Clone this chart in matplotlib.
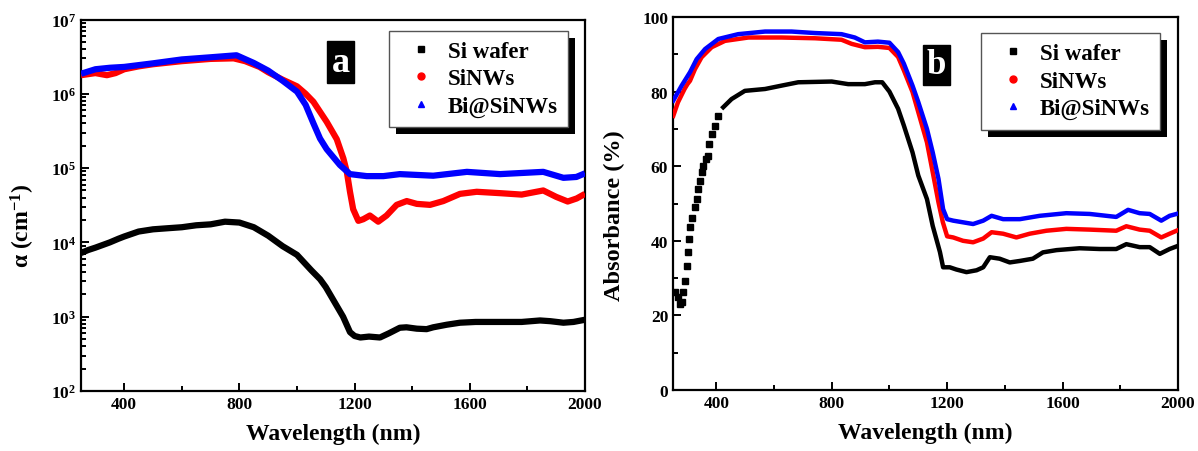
import numpy as np
import matplotlib
matplotlib.use("Agg")
import matplotlib.pyplot as plt
from matplotlib.lines import Line2D
from matplotlib.patches import Rectangle
from matplotlib.ticker import MultipleLocator, LogLocator, LogFormatterMathtext, NullFormatter

plt.rcParams['font.family'] = ['Liberation Serif', 'DejaVu Serif']
plt.rcParams['font.weight'] = 'bold'
plt.rcParams['mathtext.fontset'] = 'custom'
plt.rcParams['mathtext.rm'] = 'Liberation Serif:bold'
plt.rcParams['mathtext.bf'] = 'Liberation Serif:bold'
plt.rcParams['mathtext.it'] = 'Liberation Serif:bold:italic'
plt.rcParams['mathtext.default'] = 'regular'

labels = ["Si wafer", "SiNWs", "Bi@SiNWs"]
colors = ["black", "red", "blue"]
markers = ["s", "o", "^"]

# ---- panel a: absorption coefficient (cm^-1) ----
a_wl_si = [250, 275, 300, 350, 380, 400, 450, 500, 550, 600, 650, 700, 750, 800, 850, 900, 950,
           1000, 1050, 1080, 1100, 1138, 1160, 1184, 1200, 1220, 1250, 1288, 1320, 1357, 1380,
           1416, 1450, 1473, 1520, 1566, 1620, 1705, 1780, 1844, 1880, 1925, 1960, 2000]
a_si = [7200, 7900, 8500, 1.0e4, 1.12e4, 1.2e4, 1.4e4, 1.5e4, 1.55e4, 1.6e4, 1.7e4, 1.75e4, 1.9e4,
        1.85e4, 1.6e4, 1.23e4, 8900, 6800, 4200, 3200, 2500, 1400, 1000, 620, 550, 525, 540, 525,
        600, 710, 720, 690, 680, 720, 780, 830, 850, 850, 850, 890, 870, 830, 850, 910]

a_wl_nw = [250, 300, 340, 370, 400, 450, 500, 600, 700, 780, 820, 870, 900, 950, 1000, 1030, 1057,
           1103, 1138, 1161, 1173, 1184, 1195, 1213, 1230, 1253, 1282, 1311, 1346, 1381, 1416,
           1462, 1508, 1566, 1624, 1705, 1780, 1855, 1900, 1940, 1971, 2000]
a_nw = [1.78e6, 1.9e6, 1.78e6, 1.9e6, 2.14e6, 2.34e6, 2.5e6, 2.75e6, 2.95e6, 3.0e6, 2.75e6, 2.3e6,
        1.95e6, 1.55e6, 1.26e6, 1.0e6, 7.8e5, 4.2e5, 2.45e5, 1.35e5, 8.9e4, 4.8e4, 2.8e4, 1.95e4,
        2.05e4, 2.3e4, 1.9e4, 2.3e4, 3.2e4, 3.6e4, 3.3e4, 3.2e4, 3.6e4, 4.5e4, 4.8e4, 4.6e4, 4.4e4,
        5.0e4, 4.1e4, 3.55e4, 3.9e4, 4.5e4]

a_wl_bi = [250, 300, 350, 400, 500, 600, 700, 790, 850, 900, 950, 1000, 1030, 1057, 1080, 1103,
           1149, 1184, 1242, 1300, 1357, 1473, 1590, 1705, 1855, 1925, 1970, 2000]
a_bi = [1.86e6, 2.14e6, 2.24e6, 2.3e6, 2.57e6, 2.9e6, 3.1e6, 3.3e6, 2.6e6, 2.05e6, 1.5e6, 1.07e6,
        7.1e5, 4.0e5, 2.5e5, 1.8e5, 1.1e5, 8.3e4, 7.8e4, 7.8e4, 8.3e4, 7.9e4, 8.9e4, 8.3e4, 8.9e4,
        7.4e4, 7.6e4, 8.5e4]

# ---- panel b: absorbance (%) ----
b_wl_si = [257, 266, 274, 280, 286, 292, 297, 301, 305, 309, 317, 326, 333, 338, 343, 349, 355, 363,
           370, 375, 384, 395, 407, 424, 453, 499, 569, 626, 684, 800, 857, 915, 950, 975, 1000,
           1030, 1050, 1080, 1100, 1130, 1150, 1175, 1186, 1209, 1232, 1267, 1302, 1325, 1348,
           1382, 1417, 1452, 1497, 1532, 1579, 1659, 1729, 1786, 1821, 1867, 1902, 1937, 1971, 1995]
b_si = [26.2, 24.8, 23.1, 23.5, 26.2, 29.3, 33.3, 36.9, 40.5, 43.6, 46.0, 49.0, 51.2, 53.9, 56.1,
        58.4, 60.1, 61.9, 62.8, 66.0, 68.6, 70.9, 73.5, 75.8, 78.0, 80.2, 80.7, 81.6, 82.5, 82.7,
        82.0, 82.0, 82.5, 82.5, 80.0, 75.4, 70.9, 63.7, 57.5, 51.2, 44.0, 37.0, 32.9, 32.9, 32.3,
        31.6, 32.1, 32.9, 35.6, 35.2, 34.2, 34.6, 35.2, 36.9, 37.5, 38.0, 37.8, 37.8, 39.1, 38.3,
        38.3, 36.5, 37.8, 38.5]

b_wl_nw = [251, 267, 290, 300, 309, 326, 349, 384, 430, 511, 626, 742, 834, 869, 915, 960, 1000,
           1030, 1050, 1080, 1100, 1130, 1150, 1170, 1185, 1200, 1221, 1255, 1290, 1325, 1354,
           1394, 1440, 1486, 1544, 1613, 1694, 1786, 1821, 1867, 1902, 1942, 1971, 1995]
b_nw = [73.5, 77.1, 80.7, 82.0, 82.9, 86.0, 89.2, 91.9, 93.6, 94.5, 94.5, 94.3, 93.9, 92.8, 91.9,
        92.0, 91.7, 89.3, 85.7, 79.9, 74.5, 66.4, 58.4, 50.3, 45.0, 41.2, 40.9, 40.0, 39.6, 40.6,
        42.3, 41.9, 40.9, 41.9, 42.7, 43.2, 43.0, 42.7, 43.9, 43.0, 42.7, 40.9, 41.9, 42.7]

b_wl_bi = [251, 280, 309, 332, 361, 407, 476, 569, 661, 742, 834, 880, 915, 960, 1000, 1030, 1050,
           1080, 1100, 1130, 1150, 1170, 1186, 1200, 1221, 1290, 1325, 1354, 1394, 1452, 1521,
           1613, 1694, 1786, 1827, 1867, 1902, 1942, 1971, 1995]
b_bi = [77.6, 81.6, 85.2, 88.7, 91.4, 94.1, 95.4, 96.1, 96.1, 95.7, 95.4, 94.5, 93.2, 93.4, 93.1,
        90.6, 87.5, 81.6, 77.2, 70.0, 63.7, 56.6, 48.5, 45.8, 45.4, 44.5, 45.4, 46.7, 45.8, 45.8,
        46.7, 47.4, 47.2, 46.4, 48.3, 47.4, 47.2, 45.4, 46.7, 47.2]

W, H = 1198, 452
fig = plt.figure(figsize=(W / 100, H / 100), dpi=100)
axA = fig.add_axes([81 / W, 1 - 392 / H, 504 / W, 371.5 / H])
axB = fig.add_axes([673 / W, 1 - 391 / H, 505 / W, 373 / H])

def style_axis(ax):
    for s in ax.spines.values():
        s.set_linewidth(1.6)
    ax.tick_params(which='both', direction='in', labelsize=12.5, width=1.4)
    ax.tick_params(which='major', length=6)
    ax.tick_params(which='minor', length=3.5)
    ax.set_xlim(250, 2000)
    ax.xaxis.set_major_locator(MultipleLocator(400))
    ax.xaxis.set_minor_locator(MultipleLocator(200))
    ax.set_xlabel("Wavelength (nm)", fontsize=17, fontweight='bold', labelpad=8)
    for lab in ax.get_xticklabels() + ax.get_yticklabels():
        lab.set_fontweight('bold')

# panel a
for x, y, c in [(a_wl_si, a_si, colors[0]), (a_wl_nw, a_nw, colors[1]), (a_wl_bi, a_bi, colors[2])]:
    axA.plot(x, y, '-', color=c, lw=4.5, solid_capstyle='butt', solid_joinstyle='round', zorder=3)
axA.set_yscale('log')
axA.set_ylim(1e2, 1e7)
axA.yaxis.set_major_locator(LogLocator(base=10, numticks=10))
axA.yaxis.set_minor_locator(LogLocator(base=10, subs=np.arange(2, 10), numticks=10))
axA.yaxis.set_major_formatter(LogFormatterMathtext())
axA.yaxis.set_minor_formatter(NullFormatter())
style_axis(axA)
axA.set_ylabel("α (cm$^{-1}$)", fontsize=17, fontweight='bold')
axA.yaxis.set_label_coords(-0.088, 0.447)

# panel b
xb = np.array(b_wl_si); yb = np.array(b_si)
mask = xb >= 420
axB.plot(xb[mask], yb[mask], '-', color='black', lw=3.2, zorder=3)
axB.plot(xb[~mask], yb[~mask], 's', color='black', ms=3.8, zorder=3)
for x, y, c in [(b_wl_nw, b_nw, colors[1]), (b_wl_bi, b_bi, colors[2])]:
    axB.plot(x, y, '-', color=c, lw=3.2, solid_joinstyle='round', zorder=3)
axB.set_ylim(0, 100)
axB.yaxis.set_major_locator(MultipleLocator(20))
axB.yaxis.set_minor_locator(MultipleLocator(10))
style_axis(axB)
axB.set_ylabel("Absorbance (%)", fontsize=17.5, fontweight='bold')
axB.yaxis.set_label_coords(-0.094, 0.469)

# legends
handles = [Line2D([], [], ls='none', marker=m, color=c, ms=5) for m, c in zip(markers, colors)]
legs = []
for ax, anchor in [(axA, (0.966, 0.970)), (axB, (0.964, 0.957))]:
    leg = ax.legend(handles, labels, loc='upper right', bbox_to_anchor=anchor,
                    prop={'family': 'Liberation Serif', 'weight': 'bold', 'size': 16.5},
                    frameon=True, fancybox=False, edgecolor='#555555', framealpha=1,
                    handlelength=1.9, handletextpad=0.2, labelspacing=0.28,
                    borderpad=0.45, borderaxespad=0)
    leg.get_frame().set_linewidth(1.0)
    legs.append(leg)

# panel letters
axA.text(0.515, 0.885, "a", transform=axA.transAxes, fontsize=26, fontweight='bold',
         color='white', ha='center', va='center',
         bbox=dict(boxstyle='square,pad=0.12', fc='black', ec='black'))
axB.text(0.522, 0.872, "b", transform=axB.transAxes, fontsize=25, fontweight='bold',
         color='white', ha='center', va='center',
         bbox=dict(boxstyle='square,pad=0.1', fc='black', ec='black'))

# solid shadows behind legends
fig.canvas.draw()
inv = fig.transFigure.inverted()
for leg in legs:
    bb = leg.get_window_extent()
    (x0, y0), (x1, y1) = inv.transform([[bb.x0, bb.y0], [bb.x1, bb.y1]])
    dx, dy = 7 / W, 7 / H
    fig.patches.append(Rectangle((x0 + dx, y0 - dy), x1 - x0, y1 - y0, transform=fig.transFigure,
                                 fc='black', ec='none', zorder=9))
    leg.remove()
    fig.add_artist(leg)
    leg.set_zorder(11)

fig.savefig("out.png", dpi=100)
